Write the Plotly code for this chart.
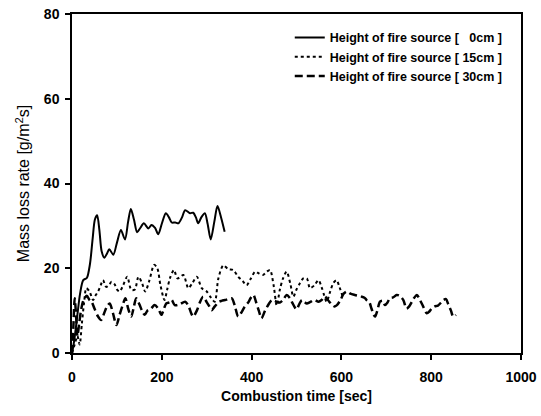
import plotly.graph_objects as go

# ---- data ----
t_0cm = [0, 5, 12, 18, 25, 33, 40, 46, 51, 56, 61, 66, 72, 78, 83, 92, 100, 109, 118, 125, 131, 138, 145,
         152, 160, 170, 177, 185, 192, 200, 209, 216, 222, 230, 237, 245, 252, 263, 270, 276, 281, 288, 296,
         302, 309, 317, 324, 332, 340]
y_0cm = [0, 3, 9, 14, 17.2, 17.7, 21, 27, 31.5, 32.5, 29, 24, 22.5, 23.5, 24.5, 23.2, 26, 29, 26.8, 31, 34,
         31.5, 28.5, 29.5, 30.6, 29.4, 30.2, 29.5, 28, 30.5, 33, 32, 30.8, 30.8, 30.6, 32, 33.7, 33, 33.1, 32,
         30.6, 32, 33, 30.5, 26.8, 31, 34.7, 32, 28.6]

t_15cm = [0, 6, 12, 17, 22, 27, 32, 39, 47, 52, 58, 64, 69, 76, 82, 88, 95, 100, 106, 114, 123, 132, 140,
          148, 156, 163, 172, 183, 190, 197, 206, 212, 218, 227, 235, 248, 259, 268, 278, 289, 300, 310, 318,
          326, 337, 348, 359, 370, 380, 389, 398, 408, 416, 425, 434, 441, 449, 456, 463, 470, 478, 486, 493,
          500, 508, 515, 523, 530, 540, 549, 556, 562, 567, 575, 582, 589, 596, 604]
y_15cm = [0, 2, 4, 2, 7, 12, 15.3, 14.5, 12.5, 13.5, 14.5, 16, 17.2, 15.6, 16, 16.8, 16.2, 15, 14.5, 16, 18,
          14.9, 15, 18, 16.5, 14.5, 17, 20.8, 20, 16, 12.5, 15, 17.6, 19.6, 17.6, 18.4, 15.3, 16.5, 18, 15.3,
          14.5, 13, 12.1, 17.6, 20.7, 19.8, 19.6, 18, 17, 16, 17.5, 19.2, 18.8, 18.4, 19.2, 19.6, 16, 11.2, 15,
          17.6, 19.2, 16.5, 13.3, 15, 16.5, 17.6, 17.6, 15.3, 16, 17.2, 15.5, 13.5, 12.1, 14.5, 16.5, 17.2,
          15.5, 12.9]

t_30cm = [0, 3, 6, 9, 12, 16, 20, 24, 28, 33, 39, 44, 50, 58, 65, 72, 78, 84, 91, 99, 106, 112, 119, 125,
          132, 138, 143, 150, 156, 162, 168, 176, 184, 192, 199, 205, 210, 218, 222, 229, 240, 252, 260, 265,
          270, 278, 285, 292, 300, 306, 311, 318, 326, 333, 341, 348, 356, 363, 370, 377, 385, 393, 398, 404,
          410, 416, 422, 430, 438, 445, 452, 458, 463, 470, 478, 485, 490, 500, 506, 512, 518, 523, 530, 540,
          549, 556, 563, 570, 578, 584, 590, 598, 605, 612, 620, 630, 638, 645, 652, 656, 662, 667, 672, 675,
          680, 686, 692, 697, 703, 708, 715, 723, 730, 738, 745, 751, 757, 762, 768, 775, 782, 790, 796, 801,
          808, 815, 821, 827, 833, 838, 844, 849, 855]
y_30cm = [0, 6, 12.9, 9, 4, 7, 10, 12, 12.9, 13.5, 12.5, 12, 10.5, 8.6, 7.8, 9.5, 11, 11.7, 9.5, 6.6, 9, 11,
          12.9, 10.5, 8.6, 11, 12.9, 11.5, 10, 9, 10, 10.5, 11.3, 10.5, 9, 10.5, 11.7, 12, 12.5, 11.3, 11.5,
          12.1, 11, 9.5, 8.6, 10, 12, 13.3, 12, 11, 10.1, 11, 12, 12.3, 12.5, 12.7, 12.9, 11, 8.6, 9.5, 11, 12,
          13, 13.7, 12, 10, 8.2, 10, 11.5, 12.5, 12.3, 12, 11.9, 12.5, 13.7, 13, 12, 10.3, 11.5, 12.5, 12,
          11.7, 12, 12.5, 12.1, 12.5, 13.3, 12.5, 11.5, 11, 11.3, 12.5, 14, 14.5, 14, 13.7, 13.5, 13.3, 13,
          12.5, 12, 10.5, 9, 8.6, 10, 12.1, 12.3, 11.3, 12, 12.9, 13.1, 13.7, 13.5, 12.5, 10.5, 11, 12.1, 13,
          13.7, 12.5, 11, 9.4, 9.8, 10.5, 11, 11.2, 11.8, 12.5, 12.7, 11.5, 10, 8.6, 9]

names = ["Height of fire source [\u00a0\u00a0 0cm ]",
         "Height of fire source [ 15cm ]",
         "Height of fire source [ 30cm ]"]

FONT = "Liberation Sans, Arial, sans-serif"

fig = go.Figure()
fig.add_trace(go.Scatter(x=t_0cm, y=y_0cm, mode="lines", name=names[0],
                         line=dict(color="black", width=2, shape="spline", smoothing=0.8)))
fig.add_trace(go.Scatter(x=t_15cm, y=y_15cm, mode="lines", name=names[1],
                         line=dict(color="black", width=2, dash="dot", shape="spline", smoothing=0.8)))
fig.add_trace(go.Scatter(x=t_30cm, y=y_30cm, mode="lines", name=names[2],
                         line=dict(color="black", width=2.5, dash="8px,4px", shape="spline", smoothing=0.8)))

fig.update_layout(
    width=541, height=416,
    margin=dict(l=72, r=20, t=14, b=63),
    paper_bgcolor="white", plot_bgcolor="white",
    font=dict(family=FONT, color="black", size=13),
    showlegend=True,
    legend=dict(x=0.485, y=0.974, xanchor="left", yanchor="top",
                bgcolor="rgba(0,0,0,0)", borderwidth=0,
                font=dict(family=FONT, size=12.5, color="black", weight="bold"),
                tracegroupgap=0, itemwidth=30),
    xaxis=dict(range=[0, 1000], tickvals=[0, 200, 400, 600, 800, 1000], automargin=False,
               showgrid=False, zeroline=False, showline=True, linecolor="black", linewidth=1.5,
               mirror=True, ticks="outside", ticklen=5, tickwidth=1.5, tickcolor="black",
               ticklabelstandoff=5,
               tickfont=dict(family=FONT, size=14, weight="bold"),
               title=dict(text="Combustion time [sec]", standoff=8,
                          font=dict(family=FONT, size=14, weight="bold"))),
    yaxis=dict(range=[0, 80], tickvals=[0, 20, 40, 60, 80], automargin=False,
               showgrid=False, zeroline=False, showline=True, linecolor="black", linewidth=1.5,
               mirror=True, ticks="outside", ticklen=5, tickwidth=1.5, tickcolor="black",
               ticklabelstandoff=3,
               tickfont=dict(family=FONT, size=14, weight="bold"),
               title=dict(text="Mass loss rate [g/m<sup>2</sup>s]", standoff=10,
                          font=dict(family=FONT, size=16))),
)

fig.write_html("out.html")
